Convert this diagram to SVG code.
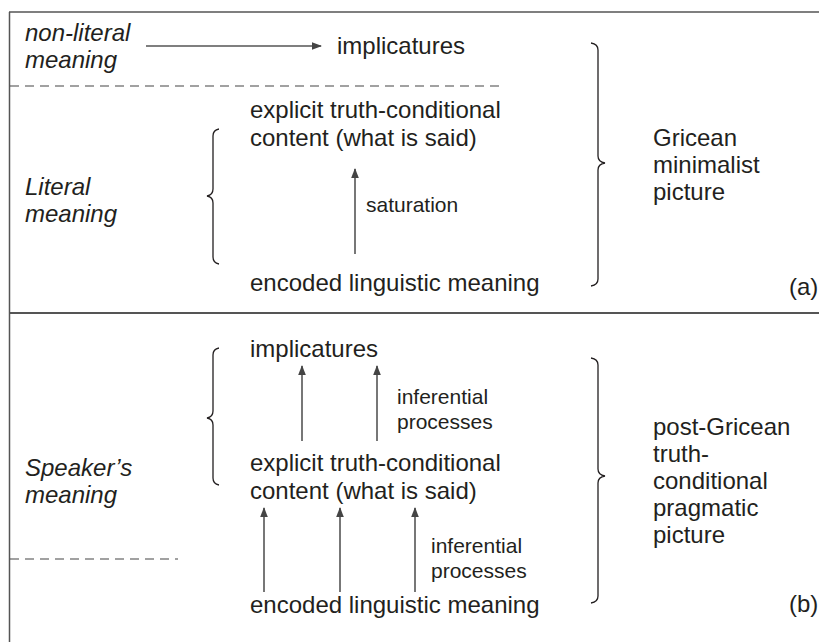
<svg xmlns="http://www.w3.org/2000/svg" width="819" height="642" viewBox="0 0 819 642">
<style>
text{font-family:"Liberation Sans",Arial,Helvetica,sans-serif;fill:#231f20}
.m{font-size:24px}
.s{font-size:21px}
.i{font-style:italic}
.frame{stroke:#555;fill:none}
.dash{stroke:#444;stroke-width:1.2;stroke-dasharray:9 6;fill:none}
.brace{stroke:#231f20;stroke-width:1.3;fill:none}
.arr{stroke:#555;stroke-width:1.6;fill:none;marker-end:url(#ah)}
</style>
<defs>
<marker id="ah" markerUnits="userSpaceOnUse" markerWidth="10" markerHeight="10" viewBox="0 0 10 10" refX="9" refY="5" orient="auto">
<path d="M0,1.2 L10,5 L0,8.8 Z" fill="#444"/>
</marker>
</defs>
<rect width="819" height="642" fill="#fff"/>
<g id="frame">
<line class="frame" x1="9.5" y1="12" x2="9.5" y2="642" stroke-width="1.5"/>
<line class="frame" x1="9" y1="12" x2="819" y2="12" stroke-width="1.5"/>
<line class="frame" x1="9" y1="313" x2="819" y2="313" stroke-width="2.2"/>
<line class="dash" x1="10" y1="86" x2="502" y2="86"/>
<line class="dash" x1="10" y1="559" x2="178" y2="559"/>
</g>
<g id="panel-a">
<g id="a-nonliteral"><text class="m i" x="25" y="41">non-literal</text><text class="m i" x="25" y="68">meaning</text></g>
<g id="a-implicatures"><text class="m" x="337" y="54">implicatures</text></g>
<g id="a-explicit"><text class="m" x="250" y="118">explicit truth-conditional</text><text class="m" x="250" y="146">content (what is said)</text></g>
<g id="a-literal"><text class="m i" x="25" y="195">Literal</text><text class="m i" x="25" y="222">meaning</text></g>
<g id="a-saturation"><text class="s" x="366" y="212">saturation</text></g>
<g id="a-encoded"><text class="m" x="250" y="291">encoded linguistic meaning</text></g>
<g id="a-gricean"><text class="m" x="653" y="146">Gricean</text><text class="m" x="653" y="173">minimalist</text><text class="m" x="653" y="200">picture</text></g>
<g id="a-label"><text class="m" x="789" y="295">(a)</text></g>
<g id="a-braces">
<path class="brace" d="M219,129 Q213,130 213,136 L213,189 Q213,195 207,196 Q213,197 213,203 L213,257 Q213,263 219,264"/>
<path class="brace" d="M591,43 Q598,44 598,50 L598,156 Q598,162 605,163 Q598,164 598,170 L598,279 Q598,285 591,286"/>
</g>
</g>
<g id="panel-b">
<g id="b-implicatures"><text class="m" x="250" y="357">implicatures</text></g>
<g id="b-inf1"><text class="s" x="397" y="404">inferential</text><text class="s" x="397" y="429">processes</text></g>
<g id="b-explicit"><text class="m" x="250" y="471">explicit truth-conditional</text><text class="m" x="250" y="499">content (what is said)</text></g>
<g id="b-speaker"><text class="m i" x="25" y="476">Speaker’s</text><text class="m i" x="25" y="503">meaning</text></g>
<g id="b-inf2"><text class="s" x="431" y="553">inferential</text><text class="s" x="431" y="578">processes</text></g>
<g id="b-encoded"><text class="m" x="250" y="613">encoded linguistic meaning</text></g>
<g id="b-postgricean"><text class="m" x="653" y="435">post-Gricean</text><text class="m" x="653" y="462">truth-</text><text class="m" x="653" y="489">conditional</text><text class="m" x="653" y="516">pragmatic</text><text class="m" x="653" y="543">picture</text></g>
<g id="b-label"><text class="m" x="789" y="612">(b)</text></g>
<g id="b-braces">
<path class="brace" d="M219,348 Q213,349 213,355 L213,411 Q213,417 207,418 Q213,419 213,425 L213,478 Q213,484 219,485"/>
<path class="brace" d="M591,358 Q598,359 598,365 L598,469 Q598,475 605,476 Q598,477 598,483 L598,596 Q598,602 591,603"/>
</g>
</g>
<g id="connectors">
<line class="arr" x1="146" y1="46" x2="321" y2="46"/>
<line class="arr" x1="355" y1="254" x2="355" y2="169"/>
<line class="arr" x1="302" y1="441" x2="302" y2="366"/>
<line class="arr" x1="377" y1="441" x2="377" y2="366"/>
<line class="arr" x1="264" y1="592" x2="264" y2="508"/>
<line class="arr" x1="340" y1="592" x2="340" y2="508"/>
<line class="arr" x1="415" y1="592" x2="415" y2="508"/>
</g>
</svg>
